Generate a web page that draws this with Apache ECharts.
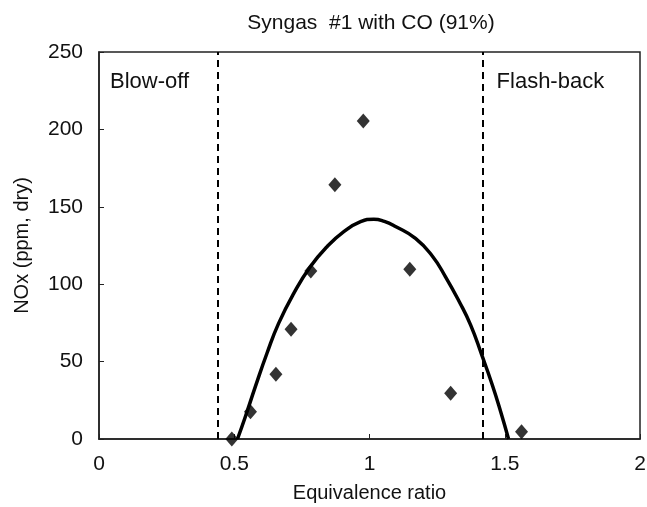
<!DOCTYPE html>
<html>
<head>
<meta charset="utf-8">
<script src="https://cdn.jsdelivr.net/npm/echarts@6/dist/echarts.min.js"></script>
<style>
  html, body { margin: 0; padding: 0; background: #fff; }
  #chart { width: 647px; height: 507px; }
</style>
</head>
<body>
<div id="chart"></div>
<script>
// 测量点 (equivalence ratio, NOx ppm)
const measuredPhi = [0.491, 0.560, 0.654, 0.710, 0.783, 0.872, 0.977, 1.149, 1.300, 1.562];
const measuredNOx = [0, 17.6, 41.8, 70.9, 108.5, 164.3, 205.4, 109.6, 29.5, 4.7];

// 拟合曲线
const fitPhi = [0.512, 0.541, 0.578, 0.621, 0.664, 0.720, 0.781, 0.843, 0.905, 0.967, 1.016, 1.055, 1.096, 1.170, 1.232, 1.281, 1.331, 1.374, 1.415, 1.454, 1.485, 1.514];
const fitNOx = [0, 14.4, 33.8, 55.4, 74.7, 94.1, 111.3, 124.2, 133.9, 140.4, 142.0, 140.6, 137.3, 129.6, 118.2, 104.8, 89.0, 73.6, 54.3, 34.9, 17.6, 0];

// 稳定燃烧边界
const limitPhi = [0.437, 1.418];
const regionNames = ['Blow-off', 'Flash-back'];

const xTicks = [0, 0.5, 1, 1.5, 2];
const yTicks = [0, 50, 100, 150, 200, 250];

const font = 'Liberation Sans, Arial, sans-serif';

const myChart = echarts.init(document.getElementById('chart'));

const scatterData = measuredPhi.map((x, i) => [x, measuredNOx[i]]);
const fitData = fitPhi.map((x, i) => [x, fitNOx[i]]);
const xMin = xTicks[0], xMax = xTicks[xTicks.length - 1];
const yMin = yTicks[0], yMax = yTicks[yTicks.length - 1];

myChart.setOption({
  animation: false,
  title: {
    text: 'Syngas  #1 with CO (91%)',
    left: 366,
    textAlign: 'center',
    top: 8,
    textStyle: { fontSize: 21, fontWeight: 'normal', color: '#111', fontFamily: font }
  },
  grid: {
    left: 99,
    right: 7,
    top: 52,
    bottom: 68,
    outerBoundsMode: 'none',
    show: true,
    borderColor: '#222',
    borderWidth: 1.5
  },
  xAxis: {
    type: 'value',
    min: xMin,
    max: xMax,
    interval: 0.5,
    name: 'Equivalence ratio',
    nameLocation: 'middle',
    nameGap: 44,
    nameMoveOverlap: false,
    nameTextStyle: { fontSize: 20, color: '#111', fontFamily: font },
    splitLine: { show: false },
    axisLine: { show: true, lineStyle: { color: '#222', width: 1.5 } },
    axisTick: { show: true, inside: true, length: 5, lineStyle: { color: '#222' } },
    axisLabel: { fontSize: 21, color: '#111', margin: 15, fontFamily: font }
  },
  yAxis: {
    type: 'value',
    min: yMin,
    max: yMax,
    interval: 50,
    name: 'NOx (ppm, dry)',
    nameLocation: 'middle',
    nameGap: 67,
    nameMoveOverlap: false,
    nameTextStyle: { fontSize: 20, color: '#111', fontFamily: font },
    splitLine: { show: false },
    axisLine: { show: true, lineStyle: { color: '#222', width: 1.5 } },
    axisTick: { show: true, inside: true, length: 5, lineStyle: { color: '#222' } },
    axisLabel: { fontSize: 21, color: '#111', margin: 16, fontFamily: font }
  },
  series: [
    {
      name: 'fit',
      type: 'line',
      data: fitData,
      smooth: true,
      showSymbol: false,
      lineStyle: { color: '#000', width: 3.5 },
      markLine: {
        silent: true,
        symbol: 'none',
        label: { show: false },
        lineStyle: { color: '#000', type: [7, 5], width: 2 },
        data: limitPhi.map(v => ({ xAxis: v }))
      }
    },
    {
      name: 'measured',
      type: 'scatter',
      data: scatterData,
      symbol: 'diamond',
      symbolSize: [13, 15],
      itemStyle: { color: '#000' },
      z: 5
    }
  ]
});

// 区域文字: Blow-off 贴左轴, Flash-back 贴右侧虚线
const topY = myChart.convertToPixel({ gridIndex: 0 }, [xMin, yMax])[1];
const leftX = myChart.convertToPixel({ gridIndex: 0 }, [xMin, yMax])[0];
const fbX = myChart.convertToPixel({ gridIndex: 0 }, [limitPhi[1], yMax])[0];
myChart.setOption({
  graphic: [
    {
      type: 'text',
      left: leftX + 11,
      top: topY + 19,
      style: { text: regionNames[0], fontSize: 22, fill: '#111', fontFamily: font }
    },
    {
      type: 'text',
      left: fbX + 14,
      top: topY + 19,
      style: { text: regionNames[1], fontSize: 22, fill: '#111', fontFamily: font }
    }
  ]
});
</script>
</body>
</html>
